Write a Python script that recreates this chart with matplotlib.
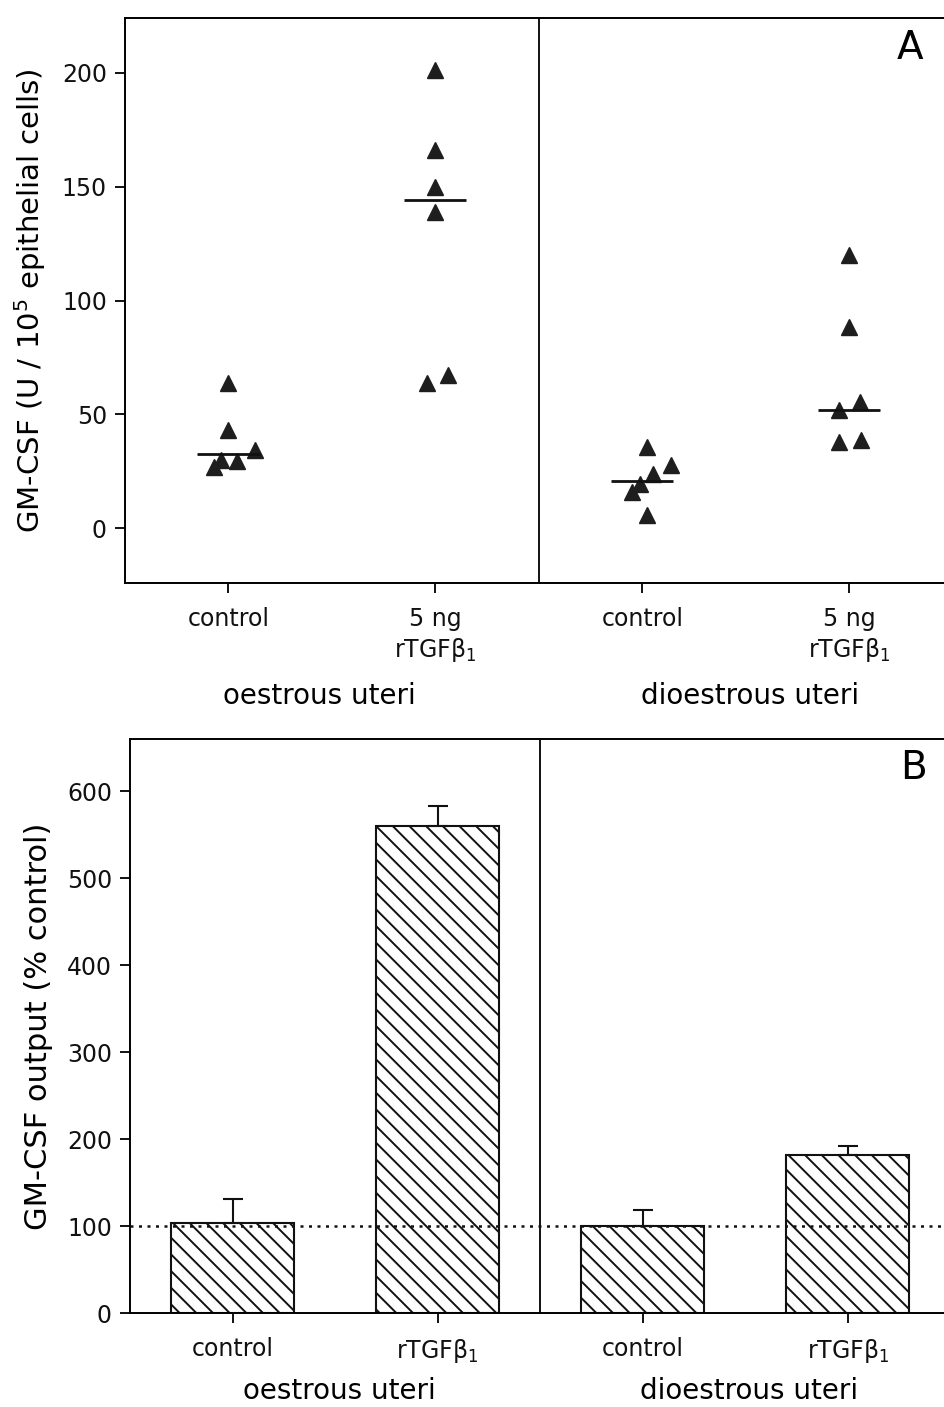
import matplotlib

matplotlib.use("Agg")
import matplotlib.pyplot as plt

# panel A: individual GM-CSF values (U / 10^5 epithelial cells)
groups = ["oestrous uteri", "dioestrous uteri"]
a_labels = ["control", "5 ng\nrTGFβ$_1$", "control", "5 ng\nrTGFβ$_1$"]
a_values = [
    [64, 43, 34.5, 29.5, 30, 27],
    [201, 166, 150, 139, 64, 67.5],
    [35.5, 28, 23.7, 19.3, 15.8, 5.7],
    [120, 88.6, 55.3, 52, 37.7, 38.6],
]
a_jitter = [
    [0, 0, 0.13, 0.04, -0.035, -0.07],
    [0, 0, 0, 0, -0.04, 0.06],
    [0.02, 0.14, 0.05, -0.01, -0.05, 0.02],
    [0, 0, 0.05, -0.05, -0.05, 0.055],
]
a_medians = [32.5, 144, 21, 52]

# panel B: GM-CSF output (% control), mean + SEM
b_labels = ["control", "rTGFβ$_1$", "control", "rTGFβ$_1$"]
b_means = [103, 560, 100, 182]
b_sem = [28, 23, 18, 10]
baseline = 100

plt.rcParams["font.family"] = ["DejaVu Sans"]
plt.rcParams["axes.linewidth"] = 1.4
plt.rcParams["hatch.linewidth"] = 1.4

fig = plt.figure(figsize=(9.44, 14.07), dpi=100)
ax_a = fig.add_axes([0.1324, 0.5856, 0.877, 0.4016])
ax_b = fig.add_axes([0.1377, 0.0668, 0.869, 0.408])

pos = [1, 2, 3, 4]
ink = "#111111"

# ---- panel A
for x, vals, jit, med in zip(pos, a_values, a_jitter, a_medians):
    ax_a.plot([x + j for j in jit], vals, ls="none", marker="^", ms=11.5,
              color="#1e1e1e", mec="#1e1e1e")
    ax_a.hlines(med, x - 0.15, x + 0.15, color=ink, lw=2)
ax_a.axvline(2.5, color=ink, lw=1.4)
ax_a.set_xlim(0.5, 4.5)
ax_a.set_ylim(-24, 224)
ax_a.set_yticks([0, 50, 100, 150, 200])
ax_a.set_xticks(pos)
ax_a.set_xticklabels(a_labels, fontsize=17, linespacing=1.25)
ax_a.set_ylabel("GM-CSF (U / 10$^5$ epithelial cells)", fontsize=21, labelpad=10)
ax_a.text(0.948, 0.947, "A", transform=ax_a.transAxes, fontsize=28,
          ha="center", va="center")
for xg, name in zip([1.44, 3.52], groups):
    ax_a.text(xg, -0.2, name, transform=ax_a.get_xaxis_transform(),
              fontsize=20, ha="center", va="center")

# ---- panel B
ax_b.bar(pos, b_means, width=0.6, color="white", edgecolor=ink, hatch="\\\\",
         lw=1.5, zorder=2)
ax_b.errorbar(pos, b_means, yerr=[[0] * 4, b_sem], fmt="none", ecolor=ink,
              elinewidth=1.5, capsize=7, capthick=1.5, zorder=3)
ax_b.axhline(baseline, color=ink, ls=(0, (1.2, 2.2)), lw=1.8, zorder=4)
ax_b.axvline(2.5, color=ink, lw=1.4)
ax_b.set_xlim(0.5, 4.5)
ax_b.set_ylim(0, 660)
ax_b.set_yticks(range(0, 601, 100))
ax_b.set_xticks(pos)
ax_b.set_xticklabels(b_labels, fontsize=17)
ax_b.set_ylabel("GM-CSF output (% control)", fontsize=22, labelpad=10)
ax_b.text(0.955, 0.95, "B", transform=ax_b.transAxes, fontsize=28,
          ha="center", va="center")
for xg, name in zip([1.52, 3.52], groups):
    ax_b.text(xg, -0.135, name, transform=ax_b.get_xaxis_transform(),
              fontsize=20, ha="center", va="center")

for ax in (ax_a, ax_b):
    ax.spines["right"].set_visible(False)
    ax.tick_params(axis="both", direction="out", length=7, width=1.4,
                   colors=ink, labelsize=17, pad=6)
    ax.tick_params(axis="x", pad=10)

fig.savefig("out.png", dpi=100)
